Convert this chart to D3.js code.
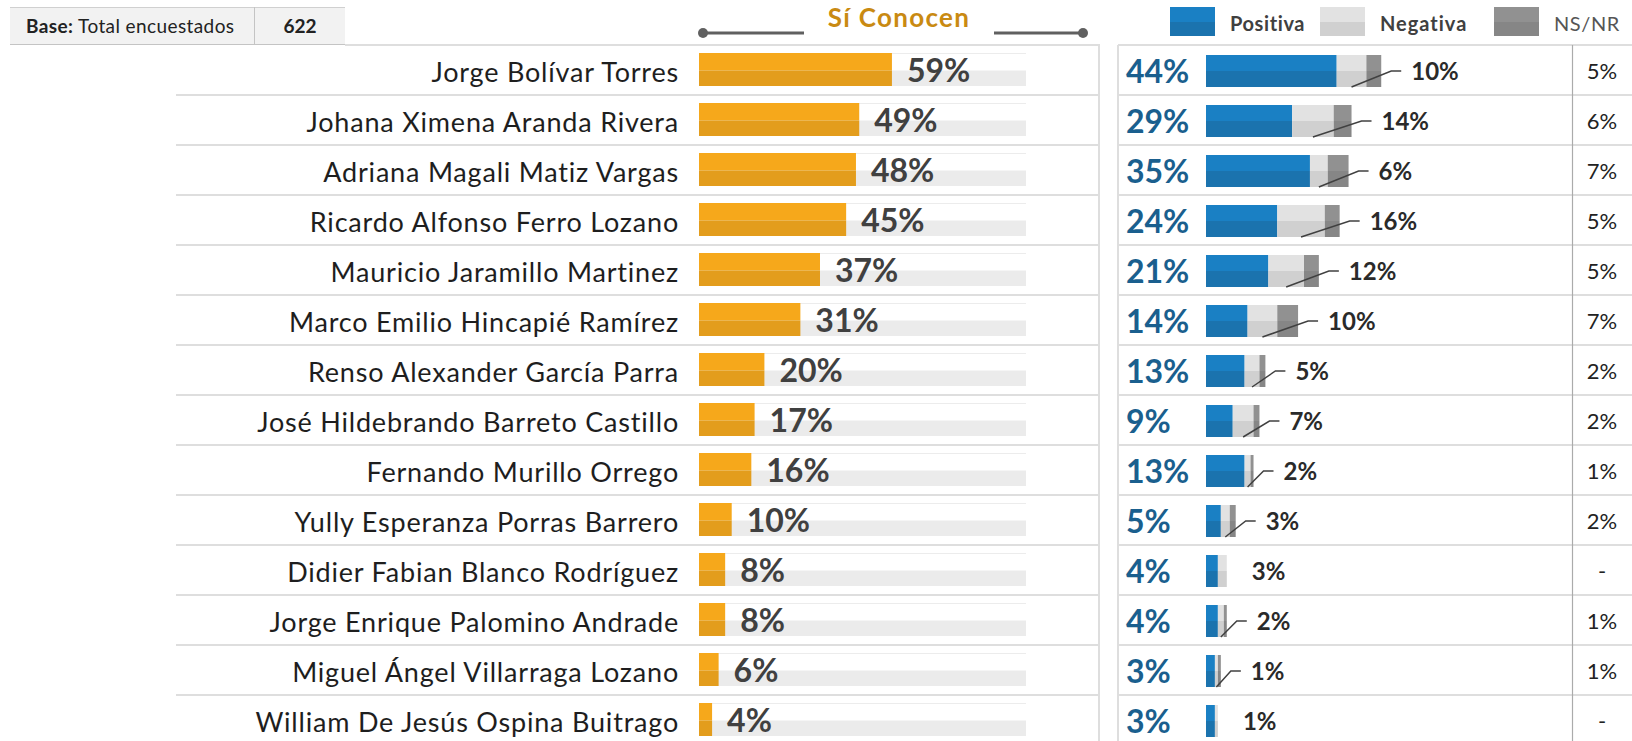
<!DOCTYPE html>
<html>
<head>
<meta charset="utf-8">
<script src="https://cdn.jsdelivr.net/npm/d3@7/dist/d3.min.js"></script>
<style>
  body { margin: 0; background: #fff; }
  svg { display: block; font-family: Lato, "Noto Sans", sans-serif; }
</style>
</head>
<body>
<svg id="chart" width="1632" height="741"></svg>
<script>
// data
const names = [
  "Jorge Bolívar Torres", "Johana Ximena Aranda Rivera", "Adriana Magali Matiz Vargas",
  "Ricardo Alfonso Ferro Lozano", "Mauricio Jaramillo Martinez", "Marco Emilio Hincapié Ramírez",
  "Renso Alexander García Parra", "José Hildebrando Barreto Castillo", "Fernando Murillo Orrego",
  "Yully Esperanza Porras Barrero", "Didier Fabian Blanco Rodríguez", "Jorge Enrique Palomino Andrade",
  "Miguel Ángel Villarraga Lozano", "William De Jesús Ospina Buitrago"
];
const conocen  = [59, 49, 48, 45, 37, 31, 20, 17, 16, 10, 8, 8, 6, 4];
const positiva = [44, 29, 35, 24, 21, 14, 13, 9, 13, 5, 4, 4, 3, 3];
const negativa = [10, 14, 6, 16, 12, 10, 5, 7, 2, 3, 3, 2, 1, 1];
const nsnr     = [5, 6, 7, 5, 5, 7, 2, 2, 1, 2, 0, 1, 1, 0];
const legendLabels = ["Positiva", "Negativa", "NS/NR"];
const baseLabel = "Total encuestados";
const baseN = 622;

const rows = names.map((n, i) => ({
  name: n, know: conocen[i], pos: positiva[i], neg: negativa[i], ns: nsnr[i]
}));

const svg = d3.select("#chart");

const y = d3.scaleBand().domain(names).range([45, 745]);
const xKnow = d3.scaleLinear().domain([0, 100]).range([699, 1026]);
const xRate = d3.scaleLinear().domain([0, 100]).range([1206, 1503]);

const lineCol = "#dedede";

// --- base box
const base = svg.append("g");
base.append("rect").attr("x", 10).attr("y", 7).attr("width", 335).attr("height", 38).attr("fill", "#f2f2f2");
base.append("line").attr("x1", 10).attr("x2", 345).attr("y1", 7.5).attr("y2", 7.5).attr("stroke", "#d0d0d0");
base.append("line").attr("x1", 10).attr("x2", 345).attr("y1", 44.5).attr("y2", 44.5).attr("stroke", "#c4c4c4");
base.append("line").attr("x1", 254.5).attr("x2", 254.5).attr("y1", 7).attr("y2", 45).attr("stroke", "#c4c4c4");
const bt = base.append("text").attr("x", 26).attr("y", 33).attr("font-size", 19)
  .attr("letter-spacing", 0.4).attr("fill", "#222");
bt.append("tspan").attr("font-weight", "bold").text("Base:");
bt.append("tspan").text(" " + baseLabel);
base.append("text").attr("x", 300).attr("y", 33).attr("text-anchor", "middle")
  .attr("font-size", 19).attr("font-weight", "bold").attr("fill", "#222").text(baseN);

// --- header "Sí Conocen"
const head = svg.append("g");
head.append("text").attr("x", 899).attr("y", 27).attr("text-anchor", "middle")
  .attr("font-size", 26).attr("font-weight", "bold").attr("letter-spacing", 1.3)
  .attr("fill", "#C98A12").text("Sí Conocen");
[[703, 804], [994, 1083]].forEach(([a, b], k) => {
  head.append("line").attr("x1", a).attr("x2", b).attr("y1", 33).attr("y2", 33)
    .attr("stroke", "#606060").attr("stroke-width", 3);
  head.append("circle").attr("cx", k === 0 ? a : b).attr("cy", 33).attr("r", 5).attr("fill", "#606060");
});

// --- legend
const legendCols = [["#1A80C4", "#1B73AE"], ["#E2E2E2", "#D0D0D0"], ["#919191", "#868686"]];
const legendX = [1170, 1320, 1494];
const leg = svg.append("g");
legendLabels.forEach((l, i) => {
  const g = leg.append("g").attr("transform", `translate(${legendX[i]},7)`);
  g.append("rect").attr("width", 45).attr("height", 15).attr("fill", legendCols[i][0]);
  g.append("rect").attr("y", 15).attr("width", 45).attr("height", 14).attr("fill", legendCols[i][1]);
  g.append("text").attr("x", 60).attr("y", 24).attr("font-size", 20)
    .attr("letter-spacing", i === 1 ? 1 : 0.6)
    .attr("font-weight", i < 2 ? "bold" : "normal").attr("fill", i < 2 ? "#404040" : "#555")
    .text(l);
});

// --- frames
const frame = svg.append("g").attr("stroke", lineCol).attr("stroke-width", 2);
frame.append("line").attr("x1", 345).attr("x2", 1100).attr("y1", 45).attr("y2", 45);
frame.append("line").attr("x1", 1118).attr("x2", 1632).attr("y1", 45).attr("y2", 45);
frame.append("line").attr("x1", 1099).attr("x2", 1099).attr("y1", 45).attr("y2", 741);
frame.append("line").attr("x1", 1118).attr("x2", 1118).attr("y1", 45).attr("y2", 741);
frame.selectAll(".sepL").data(rows.slice(0, -1)).join("line")
  .attr("x1", 176).attr("x2", 1099)
  .attr("y1", d => y(d.name) + y.bandwidth()).attr("y2", d => y(d.name) + y.bandwidth());
frame.selectAll(".sepR").data(rows.slice(0, -1)).join("line")
  .attr("x1", 1118).attr("x2", 1632)
  .attr("y1", d => y(d.name) + y.bandwidth()).attr("y2", d => y(d.name) + y.bandwidth());
svg.append("line").attr("x1", 1572.5).attr("x2", 1572.5).attr("y1", 45).attr("y2", 741)
  .attr("stroke", "#ababab").attr("stroke-width", 1.2);

// --- rows
const row = svg.selectAll(".row").data(rows).join("g")
  .attr("class", "row").attr("transform", d => `translate(0,${y(d.name)})`);

row.append("text").attr("x", 679).attr("y", 37).attr("text-anchor", "end")
  .attr("font-size", 27).attr("letter-spacing", 0.8).attr("fill", "#1e1e1e").text(d => d.name);

// track
row.append("line").attr("x1", xKnow(0)).attr("x2", xKnow(100)).attr("y1", 8.5).attr("y2", 8.5)
  .attr("stroke", "#ececec");
row.append("rect").attr("x", xKnow(0)).attr("y", 25.5).attr("width", xKnow(100) - xKnow(0))
  .attr("height", 15.5).attr("fill", "#ebebeb");
// orange bar, two tone
row.append("rect").attr("x", xKnow(0)).attr("y", 8).attr("width", d => xKnow(d.know) - xKnow(0))
  .attr("height", 17.5).attr("fill", "#F6A81B");
row.append("rect").attr("x", xKnow(0)).attr("y", 25.5).attr("width", d => xKnow(d.know) - xKnow(0))
  .attr("height", 15.5).attr("fill", "#E39D1D");
row.append("text").attr("x", d => xKnow(d.know) + 15).attr("y", 37)
  .attr("font-size", 32).attr("font-weight", "bold").attr("fill", "#404040")
  .text(d => d.know + "%");

// positiva label
row.append("text").attr("x", 1126).attr("y", 38)
  .attr("font-size", 32).attr("font-weight", "bold").attr("fill", "#1A5F8E")
  .text(d => d.pos + "%");

// stacked bars
const segs = d => {
  const out = [];
  let x0 = 0;
  [d.pos, d.neg, d.ns].forEach((v, k) => {
    if (v > 0) out.push({ x0, x1: x0 + v, k });
    x0 += v;
  });
  return out;
};
const seg = row.selectAll(".seg").data(segs).join("g");
seg.append("rect").attr("x", s => xRate(s.x0)).attr("y", 10)
  .attr("width", s => xRate(s.x1) - xRate(s.x0)).attr("height", 16)
  .attr("fill", s => legendCols[s.k][0]);
seg.append("rect").attr("x", s => xRate(s.x0)).attr("y", 26)
  .attr("width", s => xRate(s.x1) - xRate(s.x0)).attr("height", 16)
  .attr("fill", s => legendCols[s.k][1]);

// negativa label with leader
const lead = d => {
  const end = xRate(d.pos + d.neg + d.ns);
  const mid = xRate(d.pos + d.neg / 2);
  const ex = end + 10;
  return { mid, ex, lx: ex + 20 };
};
row.filter(d => d.ns > 0).append("path")
  .attr("d", d => {
    const l = lead(d);
    return `M${l.mid},42 L${l.ex},26 L${l.ex + 10},26`;
  })
  .attr("fill", "none").attr("stroke", "#404040").attr("stroke-width", 1.5);
row.append("text").attr("x", d => d.ns > 0 ? lead(d).lx : xRate(d.pos + d.neg) + 25)
  .attr("y", 35).attr("font-size", 24).attr("font-weight", "bold").attr("fill", "#2a2a2a")
  .text(d => d.neg + "%");

// ns/nr column
row.append("text").attr("x", 1602).attr("y", 34).attr("text-anchor", "middle")
  .attr("font-size", 22).attr("fill", "#222")
  .text(d => d.ns > 0 ? d.ns + "%" : "-");
</script>
</body>
</html>
